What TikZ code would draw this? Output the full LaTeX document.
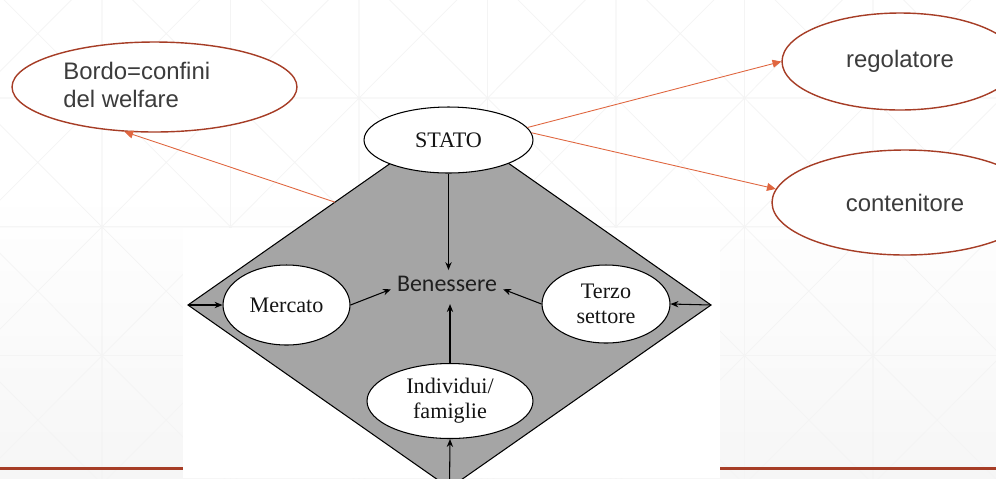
\documentclass[tikz,border=0pt]{standalone}
\usepackage{fontspec}
\setmainfont{Liberation Serif}
\setsansfont{Liberation Sans}
\newfontfamily\carlito{Carlito}
\usetikzlibrary{shapes.geometric,arrows.meta,calc}

\definecolor{rust}{HTML}{A63D26}
\definecolor{arrowred}{HTML}{E0663F}
\definecolor{textgray}{HTML}{3C3C3C}
\definecolor{diamondgray}{HTML}{A5A5A5}

\tikzset{
    bubbletext/.style={inner sep=0pt,text=textgray,font=\sffamily\fontsize{13.6}{16}\selectfont},
    bubble/.style={bubbletext,ellipse,draw=rust,line width=0.8pt,fill=white},
    actor/.style={ellipse,draw=black,line width=0.6pt,fill=white,inner sep=0pt,align=center,
        text=black!92,font=\fontsize{12.6}{14.2}\selectfont},
    link/.style={draw=arrowred,line width=0.5pt,-{Triangle[length=5pt,width=4.5pt]}},
    flow/.style={line width=0.6pt,-{Stealth[length=4.5pt,width=3.6pt]}},
    gridline/.style={draw=gray!9,line width=0.4pt}
}

\begin{document}
\begin{tikzpicture}[x=0.02cm,y=-0.02cm]
    \useasboundingbox (0,0) rectangle (996,478);
    \clip (0,0) rectangle (996,478);
    % Slide background with its faint grid
    \fill[white] (0,0) rectangle (996,478);
    \shade[top color=white,bottom color=gray!7] (0,190) rectangle (996,478);
    \foreach \i in {-1,...,7}
        \foreach \j in {-1,...,3}
            \draw[gridline] ({102+128.5*\i},{98+128.8*\j}) rectangle ++(128.5,128.8)
                ({102+128.5*\i},{98+128.8*\j}) -- ++(128.5,128.8)
                ({230.5+128.5*\i},{98+128.8*\j}) -- ++(-128.5,128.8);
    % White area of the inserted figure and footer line
    \fill[white] (183,228) rectangle (720,478);
    \draw[rust,line width=1.7pt] (0,468) -- (183,468) (720,468) -- (996,468);
    % The grey diamond
    \draw[fill=diamondgray,line width=0.6pt] (188,305) coordinate (w) -- (449.5,122) coordinate (n)
        -- (711,305) coordinate (e) -- (449.5,488) coordinate (s) -- cycle;
    \coordinate (border) at ($(w)!0.562!(n)$);
    % Actors inside the diamond
    \node[actor,minimum width=3.38cm,minimum height=1.32cm] (stato) at (448.5,140) {STATO};
    \node[actor,minimum width=2.54cm,minimum height=1.6cm] (mercato) at (286.5,305) {Mercato};
    \node[actor,minimum width=2.56cm,minimum height=1.56cm] (terzo) at (606,304) {Terzo\\settore};
    \node[actor,minimum width=3.32cm,minimum height=1.5cm] (individui) at (450,401) {Individui/\\famiglie};
    \node[text=black!88,font=\carlito\fontsize{13.6}{16}\selectfont] (benessere) at (447,284) {Benessere};
    % Arrows towards Benessere
    \draw[flow] (stato.south) -- (stato.south |- benessere.north);
    \draw[flow] (individui.north) -- ([yshift=-3.5pt]individui.north |- benessere.south);
    \draw[flow] (mercato.east) -- ([yshift=-3pt]benessere.west);
    \draw[flow] (terzo.west) -- ([yshift=-3pt]benessere.east);
    % Arrows from the corners
    \draw[flow] (w) -- (mercato.west);
    \draw[flow] (e) -- (terzo.east);
    \draw[flow] (s) -- (individui.south);
    % Annotation bubbles
    \node[bubble,minimum width=5.7cm,minimum height=1.8cm] (bordo) at (154.5,87) {};
    \node[bubbletext,anchor=west,align=left] (bordotext) at (63,85) {Bordo=confini\\del welfare};
    \node[bubble,minimum width=4.72cm,minimum height=1.94cm] (regolatore) at (900,61.5) {regolatore};
    \node[bubble,minimum width=5.32cm,minimum height=2.1cm] (contenitore) at (905,202.5) {contenitore};
    % Red links
    \draw[link] (border) -- (bordo.236);
    \draw[link] (stato.9) -- (regolatore.west);
    \draw[link] (stato.5) -- (contenitore.174);
\end{tikzpicture}
\end{document}
